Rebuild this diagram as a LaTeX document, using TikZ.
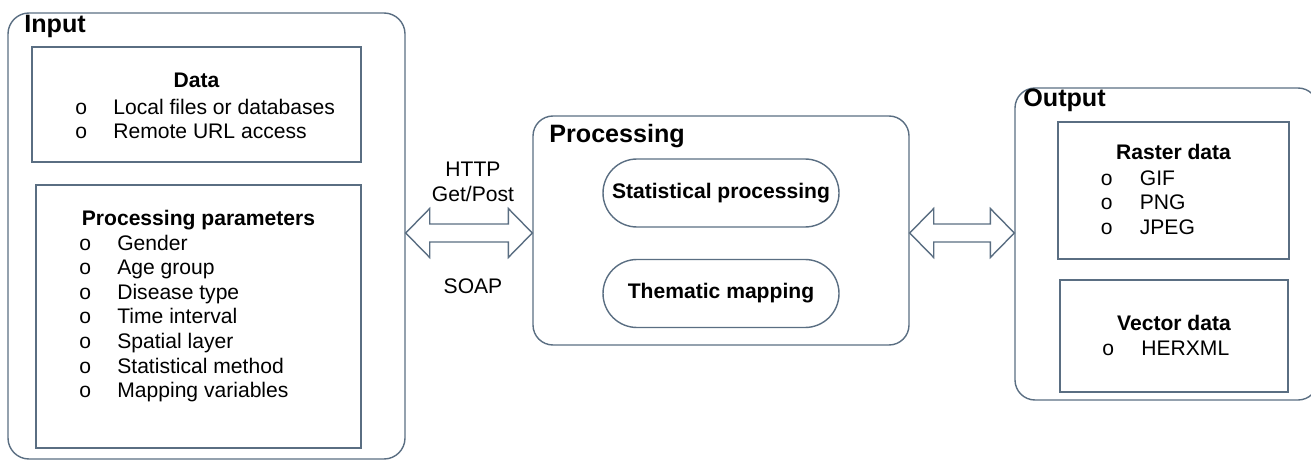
\documentclass[tikz,border=0pt]{standalone}
\usepackage{fontspec}
\setmainfont{Liberation Sans}
\definecolor{boxline}{RGB}{90, 110, 130}
\usetikzlibrary{calc}

\tikzset{
  group/.style={draw=boxline, line width=0.8pt, rounded corners=0.42cm, inner sep=0pt},
  listbox/.style={draw=boxline, line width=0.8pt, inner sep=0pt},
  task/.style={draw=boxline, line width=0.8pt, rounded corners=0.68cm, minimum width=4.72cm, minimum height=1.36cm, inner sep=0pt, font=\bfseries\fontsize{12}{14.2}\selectfont},
  grouplabel/.style={anchor=base west, inner sep=0pt, font=\bfseries\fontsize{14.3}{16}\selectfont},
  boxtitle/.style={anchor=base, inner sep=0pt, font=\bfseries\fontsize{12}{14.2}\selectfont},
  bullet/.style={anchor=base west, inner sep=0pt, font=\fontsize{12}{14.2}\selectfont},
  protocol/.style={inner sep=0pt, align=center, font=\fontsize{12}{14.2}\selectfont},
  dblarrow/.style={draw=boxline, line width=0.8pt, fill=white, line join=miter},
}

\begin{document}
\begin{tikzpicture}
  \useasboundingbox (0,0) rectangle (26.22,9.26);

  % Input group
  \node[group, minimum width=7.94cm, minimum height=8.92cm] (inp) at (4.13,4.54) {};
  \node[grouplabel] (inplabel) at (0.48,8.60) {Input};

  \node[listbox, minimum width=6.58cm, minimum height=2.30cm] (data) at (3.93,7.17) {};
  \node[boxtitle] (datatitle) at (3.93,7.50) {Data};
  \foreach \t [count=\i] in {Local files or databases, Remote URL access} {
    \node[bullet] (data\i) at (1.50, 7.43-0.47*\i) {\makebox[0.76cm][l]{o}\t};
  }

  \node[listbox, minimum width=6.50cm, minimum height=5.26cm] (params) at (3.97,2.93) {};
  \node[boxtitle] (paramstitle) at (3.97,4.76) {Processing parameters};
  \foreach \t [count=\i] in {Gender, Age group, Disease type, Time interval, Spatial layer, Statistical method, Mapping variables} {
    \node[bullet] (param\i) at (1.58, 4.753-0.493*\i) {\makebox[0.76cm][l]{o}\t};
  }

  % Processing group
  \node[group, rounded corners=0.4cm, minimum width=7.52cm, minimum height=4.58cm] (proc) at (14.42,4.65) {};
  \node[grouplabel] (proclabel) at (10.98,6.42) {Processing};
  \node[task] (stat) at (14.42,5.40) {Statistical processing};
  \node[task] (thema) at (14.42,3.39) {Thematic mapping};

  % Output group
  \node[group, rounded corners=0.4cm, minimum width=6.06cm, minimum height=6.24cm] (out) at (23.33,4.38) {};
  \node[grouplabel] (outlabel) at (20.46,7.12) {Output};

  \node[listbox, minimum width=4.62cm, minimum height=2.74cm] (raster) at (23.47,5.45) {};
  \node[boxtitle] (rastertitle) at (23.47,6.06) {Raster data};
  \foreach \t [count=\i] in {GIF, PNG, JPEG} {
    \node[bullet] (raster\i) at (22.01, 6.05-0.49*\i) {\makebox[0.78cm][l]{o}\t};
  }

  \node[listbox, minimum width=4.56cm, minimum height=2.24cm] (vector) at (23.48,2.54) {};
  \node[boxtitle] (vectortitle) at (23.48,2.66) {Vector data};
  \node[bullet] (vector1) at (22.04,2.16) {\makebox[0.78cm][l]{o}HERXML};

  % Double arrows
  \coordinate (la) at (inp.east |- 0,4.6);
  \coordinate (lb) at (proc.west |- 0,4.6);
  \draw[dblarrow] (la) -- ++(0.48,0.49) -- ++(0,-0.31) -- ($(lb)+(-0.48,0.18)$) -- ++(0,0.31)
    -- (lb) -- ++(-0.48,-0.49) -- ++(0,0.31) -- ($(la)+(0.48,-0.18)$) -- ++(0,-0.31) -- cycle;

  \coordinate (ra) at (proc.east |- 0,4.6);
  \coordinate (rb) at (out.west |- 0,4.6);
  \draw[dblarrow] (ra) -- ++(0.48,0.49) -- ++(0,-0.31) -- ($(rb)+(-0.48,0.18)$) -- ++(0,0.31)
    -- (rb) -- ++(-0.48,-0.49) -- ++(0,0.31) -- ($(ra)+(0.48,-0.18)$) -- ++(0,-0.31) -- cycle;

  \node[protocol] (http) at (9.46,5.62) {HTTP\\Get/Post};
  \node[protocol, anchor=base] (soap) at (9.46,3.40) {SOAP};
\end{tikzpicture}
\end{document}
